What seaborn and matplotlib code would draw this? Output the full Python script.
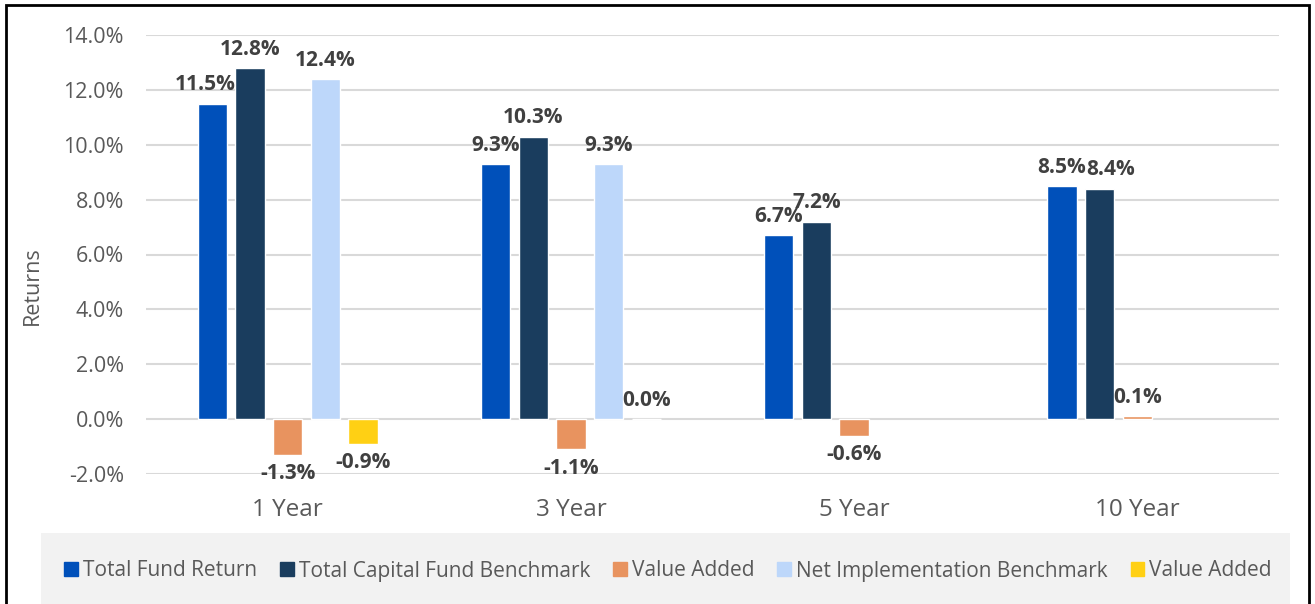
import matplotlib
matplotlib.use("Agg")
import matplotlib.pyplot as plt
import matplotlib.patches as mpatches
import numpy as np
import pandas as pd
import seaborn as sns

# --- data ---
categories = ["1 Year", "3 Year", "5 Year", "10 Year"]
total_fund_return = [11.5, 9.3, 6.7, 8.5]
total_capital_benchmark = [12.8, 10.3, 7.2, 8.4]
value_added_capital = [-1.3, -1.1, -0.6, 0.1]
net_impl_benchmark = [12.4, 9.3, np.nan, np.nan]
value_added_net = [-0.9, 0.0, np.nan, np.nan]

series_keys = ["tfr", "tcb", "va1", "nib", "va2"]
series_labels = ["Total Fund Return", "Total Capital Fund Benchmark", "Value Added",
                 "Net Implementation Benchmark", "Value Added"]
series_colors = ["#0050BA", "#1A3D5E", "#E8935F", "#BDD7FA", "#FFD014"]
y_ticks = [-2, 0, 2, 4, 6, 8, 10, 12, 14]

values = [total_fund_return, total_capital_benchmark, value_added_capital,
          net_impl_benchmark, value_added_net]

rows = []
for key, vals in zip(series_keys, values):
    for cat, v in zip(categories, vals):
        rows.append({"period": cat, "series": key, "ret": v})
df = pd.DataFrame(rows)

sns.set_theme(style="white")
plt.rcParams["font.family"] = ["Open Sans", "DejaVu Sans"]
TXT = "#595959"

fig = plt.figure(figsize=(13.15, 6.04), dpi=100)
ax = fig.add_axes([146 / 1315, 1 - 474 / 604, (1279 - 146) / 1315, (474 - 35) / 604])

sns.barplot(data=df, x="period", y="ret", hue="series", hue_order=series_keys,
            order=categories, palette=dict(zip(series_keys, series_colors)),
            width=0.665, gap=0.22, errorbar=None, ax=ax, legend=False,
            saturation=1)

# data labels (Excel nudged a couple of crowded ones sideways)
nudge = {("tfr", "1 Year"): -5, ("tcb", "10 Year"): 8}
for key, cont, vals in zip(series_keys, ax.containers, values):
    labels = ["" if np.isnan(v) else f"{v:.1f}%" for v in vals]
    if len(cont) != len(labels):
        labels = [l for l in labels if l]
    texts = ax.bar_label(cont, labels=labels, padding=6, fontsize=15,
                         fontweight="bold", color="#404040")
    for cat, t in zip(categories, texts):
        dx = nudge.get((key, cat), 0)
        if dx:
            x, y = t.xyann
            t.xyann = (x + dx, y)

ax.set_ylim(-2, 14)
ax.set_yticks(y_ticks)
ax.set_yticklabels([f"{t:.1f}%" for t in y_ticks], fontsize=15.5, color=TXT)
ax.tick_params(axis="x", labelsize=17.5, labelcolor=TXT, pad=17, length=0)
ax.tick_params(axis="y", pad=16, length=0)
ax.set_xlabel("")
ax.set_ylabel("Returns", fontsize=15.5, color=TXT)
ax.yaxis.set_label_coords(-0.091, 0.428)
ax.yaxis.grid(True, color="#D9D9D9", linewidth=1.5)
ax.set_axisbelow(True)
for s in ax.spines.values():
    s.set_visible(False)

# legend band at the bottom
fig.patches.append(mpatches.Rectangle((41 / 1315, 0), (1290 - 41) / 1315, 1 - 533 / 604,
                                      transform=fig.transFigure, facecolor="#F2F2F2",
                                      edgecolor="none", zorder=0))
handles = [mpatches.Patch(color=c) for c in series_colors]
fig.legend(handles, series_labels, loc="center", bbox_to_anchor=(0.508, 1 - 571 / 604),
           ncol=5, frameon=False, fontsize=15, labelcolor=TXT,
           handlelength=0.65, handleheight=0.65, handletextpad=0.25, columnspacing=1.1)

# chart frame
fig.patches.append(mpatches.Rectangle((6 / 1315, -0.05), (1309 - 6) / 1315, 1.05 - 5 / 604,
                                      transform=fig.transFigure, facecolor="none",
                                      edgecolor="black", linewidth=2, zorder=5))

fig.savefig("out.png", dpi=100)
